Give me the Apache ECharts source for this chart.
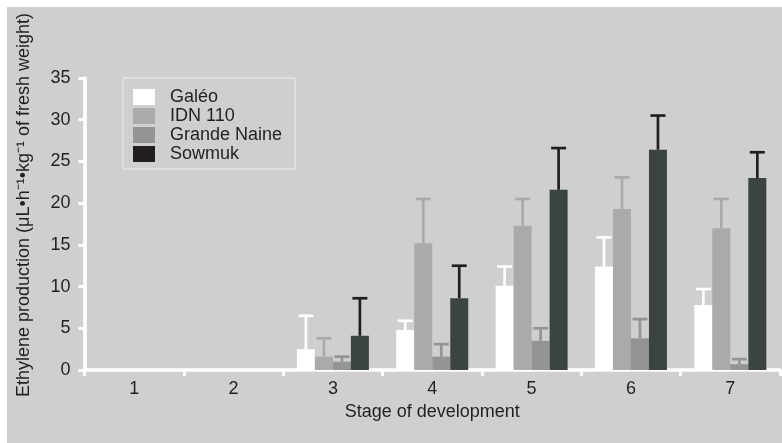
<!DOCTYPE html>
<html>
<head>
<meta charset="utf-8">
<script src="https://cdn.jsdelivr.net/npm/echarts@6/dist/echarts.min.js"></script>
<style>
  html, body { margin: 0; padding: 0; background: #ffffff; }
  #chart { width: 782px; height: 443px; }
</style>
</head>
<body>
<div id="chart"></div>
<script>
// Stages of fruit development on the x axis
const stages = ['1', '2', '3', '4', '5', '6', '7'];
const yTicks = [0, 5, 10, 15, 20, 25, 30, 35];

// Mean ethylene production per cultivar
const galeo       = [0, 0, 2.5, 4.8, 10.1, 12.4, 7.8];
const idn110      = [0, 0, 1.6, 15.2, 17.3, 19.3, 17.0];
const grandeNaine = [0, 0, 1.0, 1.6, 3.5, 3.8, 0.7];
const sowmuk      = [0, 0, 4.1, 8.6, 21.6, 26.4, 23.0];

// Upper error bar length per cultivar (null = not measured)
const galeoErr       = [null, null, 4.0, 1.1, 2.3, 3.5, 1.9];
const idn110Err      = [null, null, 2.2, 5.3, 3.2, 3.8, 3.5];
const grandeNaineErr = [null, null, 0.6, 1.5, 1.5, 2.3, 0.6];
const sowmukErr      = [null, null, 4.5, 3.9, 5.0, 4.1, 3.1];

const names = ['Galéo', 'IDN 110', 'Grande Naine', 'Sowmuk'];
const means = [galeo, idn110, grandeNaine, sowmuk];
const errs = [galeoErr, idn110Err, grandeNaineErr, sowmukErr];
const barColors = ['#ffffff', '#a9abaa', '#939494', '#3b4443'];
const errColors = ['#ffffff', '#a9abaa', '#939494', '#231f20'];
const legendColors = ['#ffffff', '#a9abaa', '#939494', '#231f20'];

const BAR_W = 18;
const TEXT = '#231f20';
const FS = 18;
const FONT = '"Liberation Sans", Arial, Helvetica, sans-serif';

// Error bar items: [stage index, cultivar index, mean, mean + error]
const errItems = [];
means.forEach((arr, s) => {
  arr.forEach((v, i) => {
    if (errs[s][i] != null) errItems.push([i, s, v, v + errs[s][i]]);
  });
});

const chart = echarts.init(document.getElementById('chart'), null, { renderer: 'canvas' });

const barSeries = names.map((n, s) => ({
  name: n,
  type: 'bar',
  data: means[s],
  barWidth: BAR_W,
  barGap: '0%',
  itemStyle: { color: barColors[s] },
  emphasis: { disabled: true },
  z: 2
}));

chart.setOption({
  backgroundColor: '#ffffff',
  animation: false,
  textStyle: { fontFamily: FONT },
  graphic: [
    {
      type: 'rect',
      z: -10,
      shape: { x: 7, y: 7, width: 775, height: 436 },
      style: { fill: '#cfcfcf' },
      silent: true
    },
    {
      // y axis title
      type: 'text',
      x: 24,
      y: 205,
      rotation: Math.PI / 2,
      silent: true,
      style: {
        text: 'Ethylene production (μL•h⁻¹•kg⁻¹ of fresh weight)',
        fill: TEXT,
        font: FS + 'px ' + FONT,
        align: 'center',
        verticalAlign: 'middle'
      }
    }
  ],
  grid: { left: 84.5, right: 2, top: 78, bottom: 73, containLabel: false },
  legend: {
    orient: 'vertical',
    left: 123,
    top: 78,
    itemWidth: 22,
    itemHeight: 16,
    itemGap: 1,
    padding: [10, 13, 6, 10],
    borderColor: '#ececec',
    borderWidth: 1,
    icon: 'rect',
    selectedMode: false,
    textStyle: { color: TEXT, fontSize: FS, fontFamily: FONT, padding: [0, 0, 0, 10] },
    data: names.map((n, s) => ({ name: n, itemStyle: { color: legendColors[s] } }))
  },
  xAxis: {
    type: 'category',
    data: stages,
    name: 'Stage of development',
    nameLocation: 'middle',
    nameGap: 33,
    nameTextStyle: { color: TEXT, fontSize: FS, fontFamily: FONT },
    axisLine: { lineStyle: { color: '#ffffff', width: 3.5 } },
    axisTick: { show: true, length: 6, lineStyle: { color: '#ffffff', width: 3 } },
    axisLabel: { color: TEXT, fontSize: FS, margin: 10, fontFamily: FONT },
    splitLine: { show: false }
  },
  yAxis: {
    type: 'value',
    min: yTicks[0],
    max: yTicks[yTicks.length - 1],
    interval: 5,
    axisLine: { show: true, lineStyle: { color: '#ffffff', width: 3.5 } },
    axisTick: { show: true, length: 6, lineStyle: { color: '#ffffff', width: 3 } },
    axisLabel: { color: TEXT, fontSize: FS, margin: 14, fontFamily: FONT },
    splitLine: { show: false }
  },
  series: barSeries.concat([{
    type: 'custom',
    data: errItems,
    z: 3,
    silent: true,
    renderItem: function (params, api) {
      const idx = api.value(0);
      const s = api.value(1);
      const base = api.coord([idx, api.value(2)]);
      const top = api.coord([idx, api.value(3)]);
      const x = base[0] + (s - 1.5) * BAR_W;
      const color = errColors[s];
      return {
        type: 'group',
        children: [
          { type: 'line', shape: { x1: x, y1: base[1], x2: x, y2: top[1] },
            style: { stroke: color, lineWidth: 2.7 } },
          { type: 'line', shape: { x1: x - 7.5, y1: top[1], x2: x + 7.5, y2: top[1] },
            style: { stroke: color, lineWidth: 2.7 } }
        ]
      };
    }
  }])
});
</script>
</body>
</html>
